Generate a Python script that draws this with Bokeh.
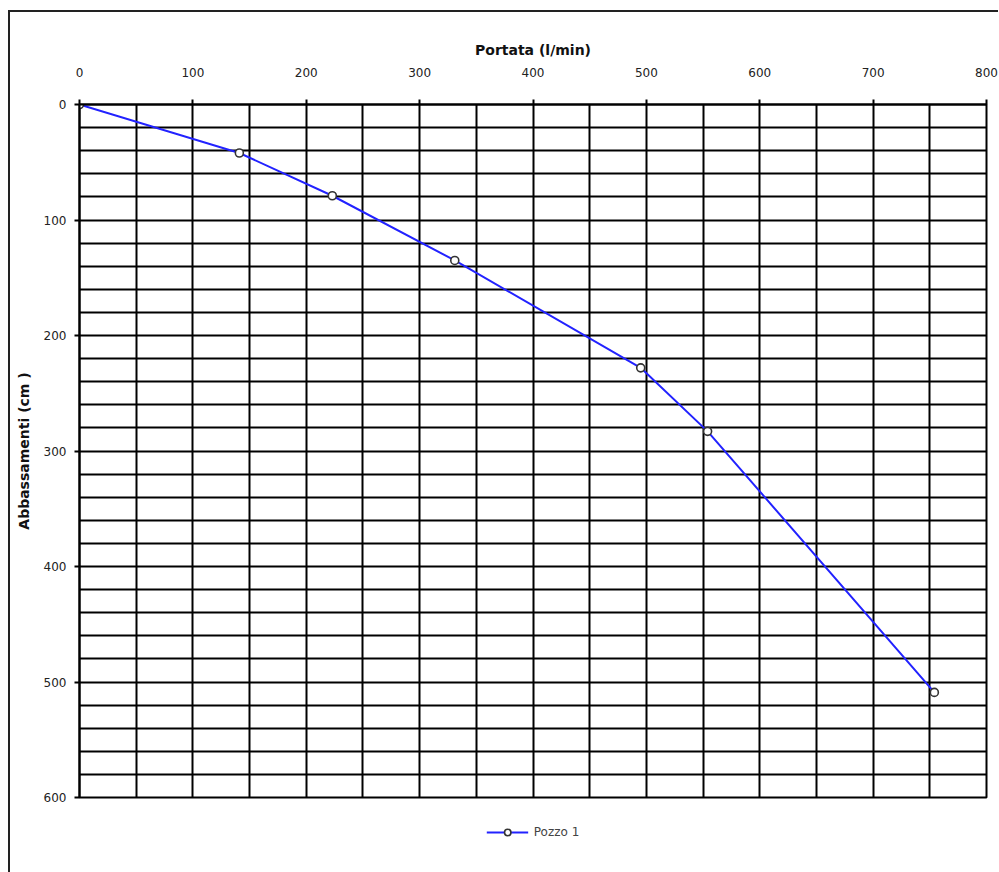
from bokeh.plotting import figure
from bokeh.layouts import column
from bokeh.models import Range1d, FixedTicker, Legend, LegendItem
from bokeh.embed import file_html
from bokeh.resources import INLINE

# Data
portata = [0, 141, 223, 331, 495, 554, 754]          # l/min
abbassamenti = [0, 42, 79, 135, 228, 283, 509]      # cm
series_name = "Pozzo 1"

x_ticks = [0, 100, 200, 300, 400, 500, 600, 700, 800]
y_ticks = [0, 100, 200, 300, 400, 500, 600]
x_grid_ticks = [0, 50, 100, 150, 200, 250, 300, 350, 400, 450, 500, 550, 600, 650, 700, 750, 800]
y_grid_ticks = [0, 20, 40, 60, 80, 100, 120, 140, 160, 180, 200, 220, 240, 260, 280, 300,
                320, 340, 360, 380, 400, 420, 440, 460, 480, 500, 520, 540, 560, 580, 600]

FONT = "DejaVu Sans"

p = figure(frame_width=907, frame_height=693, output_backend="svg", toolbar_location=None,
           x_range=Range1d(0, 800), y_range=Range1d(600, 0),
           x_axis_location="above",
           min_border_left=69, min_border_right=12, min_border_top=92, min_border_bottom=60,
           background_fill_color="white", border_fill_color="white")

p.outline_line_color = "black"
p.outline_line_width = 2

# grids
p.xgrid.ticker = FixedTicker(ticks=x_grid_ticks)
p.ygrid.ticker = FixedTicker(ticks=y_grid_ticks)
for g in (p.xgrid[0], p.ygrid[0]):
    g.grid_line_color = "black"
    g.grid_line_width = 2
    g.grid_line_alpha = 1.0

# axes
p.xaxis.ticker = FixedTicker(ticks=x_ticks)
p.yaxis.ticker = FixedTicker(ticks=y_ticks)
for ax in (p.xaxis[0], p.yaxis[0]):
    ax.axis_line_color = "black"
    ax.axis_line_width = 2
    ax.major_tick_line_color = "black"
    ax.major_tick_line_width = 2
    ax.major_tick_in = 0
    ax.major_tick_out = 5
    ax.minor_tick_line_color = None
    ax.major_label_text_font = FONT
    ax.major_label_text_font_size = "12px"
    ax.major_label_text_color = "#222"
    ax.axis_label_text_font = FONT
    ax.axis_label_text_font_size = "14px"
    ax.axis_label_text_font_style = "bold"
    ax.axis_label_text_color = "#111"

p.xaxis.axis_label = "Portata (l/min)"
p.xaxis.major_label_standoff = 23
p.xaxis.axis_label_standoff = 7
p.yaxis.axis_label = "Abbassamenti (cm )"
p.yaxis.major_label_standoff = 8
p.yaxis.axis_label_standoff = 9

line_r = p.line(portata, abbassamenti, line_color="#2222ff", line_width=2)
pts_r = p.scatter(portata, abbassamenti, marker="circle", size=8,
                  line_color="#333333", line_width=1.6, fill_color="white")

legend = Legend(items=[LegendItem(label=series_name, renderers=[line_r, pts_r])],
                location="top_center", orientation="horizontal",
                border_line_color=None, background_fill_alpha=0,
                label_text_font=FONT, label_text_font_size="12px",
                glyph_width=42, glyph_height=16, padding=5, margin=27, spacing=0,
                label_standoff=6)
p.add_layout(legend, "below")

layout = column(p, styles={"border-left": "2px solid #222", "border-top": "2px solid #222",
                           "margin-left": "8px", "margin-top": "10px"})

open("out.html", "w").write(file_html(layout, INLINE))
